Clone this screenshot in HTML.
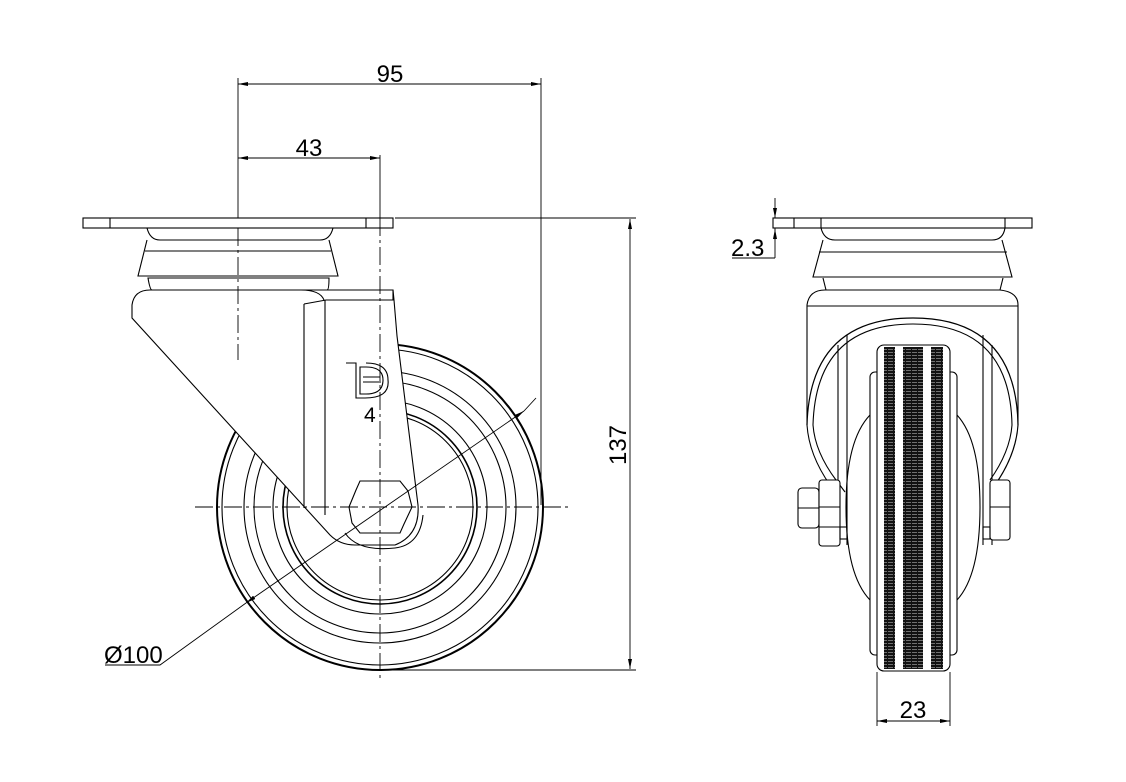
<!DOCTYPE html>
<html><head><meta charset="utf-8"><style>
html,body{margin:0;padding:0;background:#fff;}
svg{display:block;}
text{font-family:"Liberation Sans",sans-serif;fill:#000;}
</style></head><body>
<svg width="1126" height="782" viewBox="0 0 1126 782" xmlns="http://www.w3.org/2000/svg">
<defs>
<pattern id="st" width="6" height="3" patternUnits="userSpaceOnUse">
<rect width="6" height="3" fill="#111"/><rect y="1" width="5" height="0.7" fill="#999"/>
</pattern>
<marker id="ar" viewBox="0 0 10 4" refX="10" refY="2" markerWidth="10" markerHeight="4" orient="auto-start-reverse" markerUnits="userSpaceOnUse"><path d="M0,0 L10,2 L0,4z" fill="#000"/></marker>
</defs>
<g fill="none" stroke="#000" stroke-width="1.1">
<circle cx="380" cy="507" r="163" stroke-width="2"/>
<circle cx="380" cy="507" r="158"/>
<circle cx="380" cy="507" r="136"/>
<circle cx="380" cy="507" r="126"/>
<circle cx="380" cy="507" r="107"/>
<circle cx="380" cy="507" r="97" stroke-width="1.6"/>
<circle cx="380" cy="507" r="93"/>
<path d="M132,318 L132,305 Q134,290 150,290 L301,290 L393,290 L394,300 L397,336 L418,505 Q420,535 395,545 L355,545 Q340,545 330,535 Z" fill="#fff"/>
<path d="M301,290 L393,290 L393,300 L326,300 L304,304"/>
<path d="M301,290 Q320,290 324,300"/>
<line x1="304" y1="304" x2="304" y2="508"/>
<line x1="325" y1="300" x2="325" y2="515"/>
<path d="M345,533 Q358,552 395,548 Q420,545 423,515" />
<polygon points="349,507 356,490 360,481 400,481 408,491 412,507 404,524 400,533 360,533 352,523"/>
<path d="M147,228 Q150,240 160,240 L320,240 Q330,240 333,228"/>
<path d="M147,240 L138,276 L338,276 L329,240"/>
<line x1="145" y1="251" x2="331" y2="251"/>
<path d="M148,278 Q150,290 152,290 L327,290 Q329,290 329,278 Z"/>
<rect x="83" y="218" width="310" height="10" fill="#fff"/>
<line x1="110" y1="218" x2="110" y2="228"/><line x1="366" y1="218" x2="366" y2="228"/>
<path d="M346,363 L356,363 L356,398 L365,398 Q390,398 388,380 Q388,363 366,363" />
<path d="M360,367 L360,394 L366,394 Q383,394 383,380 Q383,367 366,367 Z"/>
<line x1="363" y1="377" x2="380" y2="377"/><line x1="363" y1="382" x2="381" y2="382"/>
<text x="364" y="422" font-size="21" stroke="none">4</text>
<g stroke-width="0.9" stroke-dasharray="18,4,3,4">
<line x1="195" y1="507" x2="570" y2="507"/>
<line x1="380" y1="218" x2="380" y2="682"/>
<line x1="238" y1="228" x2="238" y2="360"/>
</g>
<line x1="380" y1="155" x2="380" y2="218" stroke-width="0.9"/>
<line x1="238" y1="78" x2="238" y2="218" stroke-width="0.9"/>
<line x1="541" y1="78" x2="541" y2="505" stroke-width="0.9"/>
<line x1="238" y1="84" x2="541" y2="84" marker-start="url(#ar)" marker-end="url(#ar)" stroke-width="0.9"/>
<line x1="238" y1="158" x2="380" y2="158" marker-start="url(#ar)" marker-end="url(#ar)" stroke-width="0.9"/>
<line x1="395" y1="218" x2="636" y2="218" stroke-width="0.9"/>
<line x1="380" y1="670" x2="636" y2="670" stroke-width="0.9"/>
<line x1="630" y1="219" x2="630" y2="669" marker-start="url(#ar)" marker-end="url(#ar)" stroke-width="0.9"/>
<line x1="246" y1="603" x2="524" y2="411" marker-start="url(#ar)" marker-end="url(#ar)" stroke-width="0.9"/>
<line x1="524" y1="411" x2="536" y2="398" stroke-width="0.9"/>
<polyline points="105,665 160,665 246,603" stroke-width="0.9"/>
<path d="M821,228 Q824,240 835,240 L992,240 Q1003,240 1005,228"/>
<path d="M823,240 L813,277 L1012,277 L1002,240"/>
<line x1="819" y1="252" x2="1007" y2="252"/>
<path d="M823,278 L826,290 L1000,290 L1003,278"/>
<path d="M807,425 L807,305 Q809,290 825,290 L1000,290 Q1018,292 1018,305 L1018,425"/>
<line x1="807" y1="306" x2="1018" y2="306"/>
<path d="M870,415 Q846,440 846,507 Q846,575 870,600" />
<path d="M957,415 Q980,440 980,507 Q980,575 957,600" />
<line x1="838" y1="345" x2="838" y2="545"/><line x1="847" y1="335" x2="847" y2="545"/>
<line x1="992" y1="345" x2="992" y2="545"/><line x1="983" y1="335" x2="983" y2="545"/>
<path d="M807,425 Q810,318 913,318 Q1016,318 1018,425 Q1016,455 995,485 L990,495" stroke-width="1.2"/>
<path d="M813,425 Q816,324 913,324 Q1010,324 1012,425 Q1010,452 990,480"/>
<path d="M807,425 Q809,455 830,485 L840,500"/>
<path d="M813,425 Q815,452 836,480 L845,492"/>
<rect x="798" y="488" width="21" height="40" rx="4" fill="#fff"/>
<line x1="798" y1="508" x2="819" y2="508"/>
<rect x="819" y="480" width="21" height="66" rx="3" fill="#fff"/>
<line x1="819" y1="507" x2="840" y2="507"/><line x1="819" y1="527" x2="840" y2="527"/>
<rect x="840" y="527" width="7" height="12"/>
<rect x="990" y="480" width="20" height="60" rx="3" fill="#fff"/>
<line x1="990" y1="507" x2="1010" y2="507"/>
<rect x="983" y="527" width="7" height="12"/>
<rect x="870" y="372" width="87" height="283" rx="5" fill="#fff"/>
<rect x="877" y="345" width="73" height="326" rx="7" fill="#fff"/>
<rect x="884" y="347" width="11" height="322" fill="url(#st)" stroke="none"/>
<rect x="903" y="347" width="20" height="322" fill="url(#st)" stroke="none"/>
<rect x="931" y="347" width="12" height="322" fill="url(#st)" stroke="none"/>
<rect x="773" y="218" width="259" height="10" fill="#fff"/>
<line x1="794" y1="218" x2="794" y2="228"/><line x1="821" y1="218" x2="821" y2="228"/><line x1="1005" y1="218" x2="1005" y2="228"/>
<line x1="775" y1="198" x2="775" y2="218" marker-end="url(#ar)" stroke-width="0.9"/>
<line x1="775" y1="228" x2="775" y2="258" stroke-width="0.9"/>
<line x1="775" y1="240" x2="775" y2="229" marker-end="url(#ar)" stroke-width="0.9"/>
<line x1="732" y1="258" x2="775" y2="258" stroke-width="0.9"/>
<line x1="877" y1="672" x2="877" y2="726" stroke-width="0.9"/>
<line x1="950" y1="672" x2="950" y2="726" stroke-width="0.9"/>
<line x1="877" y1="721" x2="950" y2="721" marker-start="url(#ar)" marker-end="url(#ar)" stroke-width="0.9"/>
</g>
<g font-size="24" stroke="none">
<text x="390" y="82" text-anchor="middle">95</text>
<text x="309" y="156" text-anchor="middle">43</text>
<text x="731" y="256">2.3</text>
<text x="913" y="718" text-anchor="middle">23</text>
<text x="104" y="663">Ø100</text>
<text transform="translate(626,445) rotate(-90)" text-anchor="middle">137</text>
</g>
</svg>
</body></html>
